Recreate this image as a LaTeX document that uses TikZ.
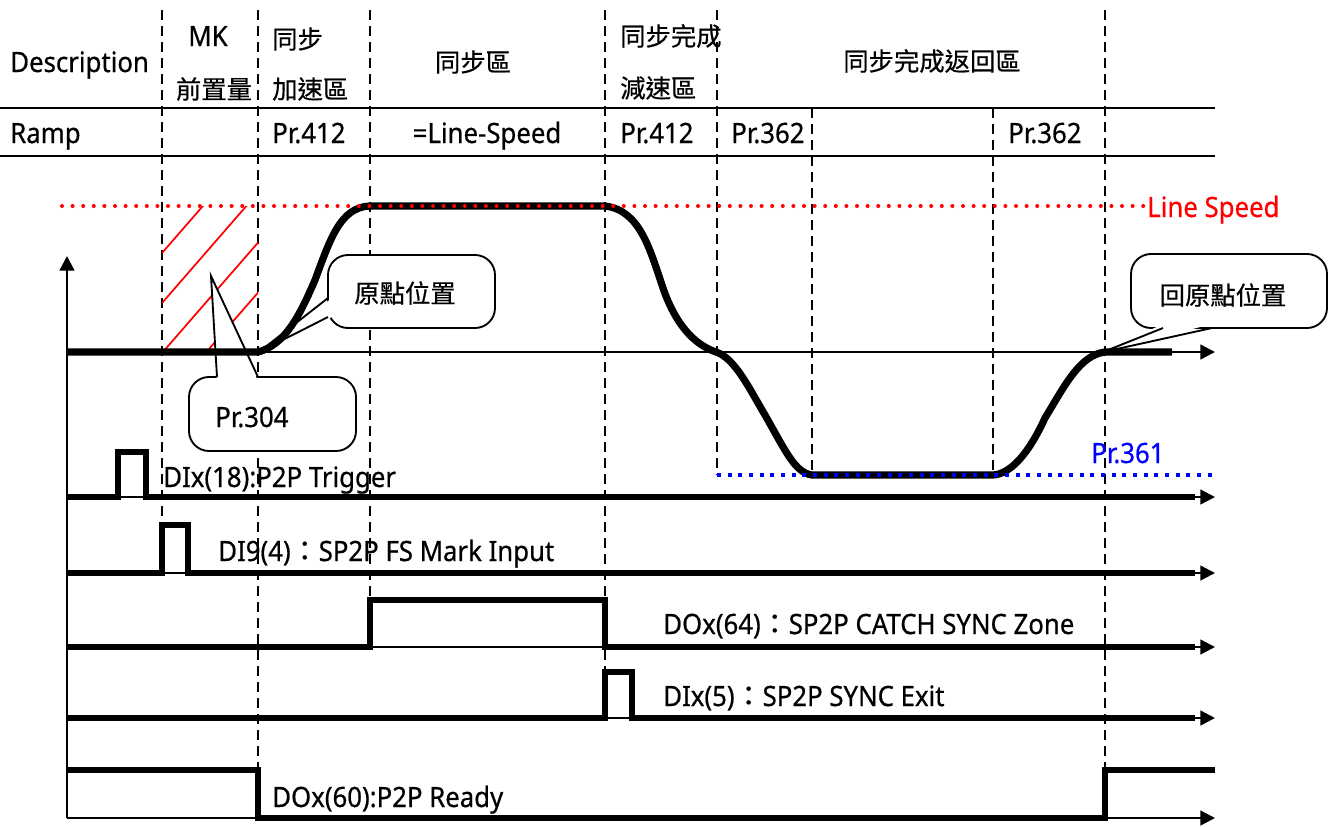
\documentclass[tikz,border=0pt]{standalone}
\usepackage{fontspec}
\setmainfont[FakeStretch=0.92,FakeBold=0.6]{Noto Sans}
\newfontfamily\cjk[FakeBold=0.5]{Noto Sans CJK TC}
\usetikzlibrary{arrows.meta}
\newcommand\latf{\fontsize{21}{25}\selectfont}
\newcommand\cjkf{\cjk\fontsize{19}{23}\selectfont}
\begin{document}
\begin{tikzpicture}[x=0.75pt,y=-0.75pt,
  hdr/.style={line width=1.9pt},
  vdash/.style={line width=2pt, dash pattern=on 7.5pt off 4.5pt},
  hatch/.style={red, line width=1.3pt},
  axis/.style={line width=1.8pt, -{Triangle[length=11pt,width=11pt]}},
  sig/.style={line width=4.3pt, line join=miter},
  speed/.style={line width=5.4pt, line join=round},
  reddots/.style={red, line width=3pt, line cap=round, dash pattern=on 0pt off 7.95pt},
  bluedots/.style={blue, line width=3pt, dash pattern=on 3pt off 5pt},
  callout/.style={draw, line width=1.4pt, fill=white, rounded corners=15pt},
  ptr/.style={line width=1.4pt, line join=miter},
  txt/.style={inner sep=0pt, font=\latf},
  ctxt/.style={inner sep=0pt, font=\cjkf}]
\useasboundingbox (0,0) rectangle (1331,826);

% header lines
\draw[hdr] (0,108) -- (1215,108);
\draw[hdr] (0,156) -- (1215,156);

% vertical dashed lines
\draw[vdash] (162,10) -- (162,525);
\draw[vdash] (258,10) -- (258,818);
\draw[vdash] (370,10) -- (370,600);
\draw[vdash] (605,10) -- (605,672);
\draw[vdash] (717,10) -- (717,475);
\draw[vdash] (812,108) -- (812,475);
\draw[vdash] (993,108) -- (993,475);
\draw[vdash] (1105,10) -- (1105,770);

% hatch
\begin{scope}
\clip (162,206) rectangle (258,352);
\foreach \b in {253,303,353,403}
  \draw[hatch] (162,\b) -- ++(120,-138);
\end{scope}

% axes and baselines
\draw[axis] (67,818) -- (67,256);
\draw[axis] (67,352) -- (1215,352);
\foreach \yy in {497,573,647,718,818}
  \draw[axis] (67,\yy) -- (1215,\yy);

% callouts
\coordinate (tipA) at (211,276);
\draw[callout] (189,377) rectangle (356,451);
\fill[white] (217,381) -- (tipA) -- (258,381) -- cycle;
\draw[ptr] (217,377) -- (tipA) -- (258,377);

\coordinate (tipB) at (259,352);
\draw[callout] (328,255) rectangle (495,328);
\fill[white] (332,298) -- (tipB) -- (332,317) -- cycle;
\draw[ptr] (328,298) -- (tipB) -- (328,317);

\coordinate (tipC) at (1103,352);
\draw[callout] (1131,254) rectangle (1327,328);
\fill[white] (1163,324) -- (tipC) -- (1212,324) -- cycle;
\draw[ptr] (1163,328) -- (tipC) -- (1212,328);

% speed curve
\draw[speed] (67,352) -- (258,352)
  .. controls (285,345) and (300,315) .. (315,280)
  .. controls (330,240) and (340,207) .. (370,206)
  -- (605,206)
  .. controls (640,210) and (650,250) .. (662,285)
  .. controls (675,325) and (695,345) .. (716,352)
  .. controls (735,358) and (750,390) .. (765,415)
  .. controls (785,450) and (795,473) .. (812,475)
  -- (993,475)
  .. controls (1010,474) and (1028,455) .. (1045,418)
  .. controls (1065,385) and (1080,355) .. (1105,352)
  -- (1172,352);

% signals
\draw[sig] (67,497) -- (118,497) -- (118,452) -- (146,452) -- (146,497) -- (1195,497);
\draw[sig] (67,573) -- (162,573) -- (162,525) -- (188,525) -- (188,573) -- (1195,573);
\draw[sig] (67,647) -- (370,647) -- (370,600) -- (605,600) -- (605,647) -- (1195,647);
\draw[sig] (67,718) -- (605,718) -- (605,672) -- (632,672) -- (632,718) -- (1195,718);
\draw[sig] (67,770) -- (258,770) -- (258,818) -- (1105,818) -- (1105,770) -- (1215,770);

% dotted reference levels
\draw[reddots] (62,206) -- (1145,206);
\draw[bluedots] (717,475) -- (1215,475);

% header texts
\node[txt, anchor=base west] (desc) at (10,72) {Description};
\node[txt, anchor=base] (mk) at (208,46) {MK};
\node[ctxt] (mkq) at (214,89) {前置量};
\node[ctxt, anchor=west] (acc1) at (272,39) {同步};
\node[ctxt, anchor=west] (acc2) at (272,89) {加速區};
\node[ctxt] (sync) at (473,62) {同步區};
\node[ctxt, anchor=west] (dec1) at (620,36) {同步完成};
\node[ctxt, anchor=west] (dec2) at (620,88) {減速區};
\node[ctxt] (ret) at (932,61) {同步完成返回區};

\node[txt, anchor=base west] (ramp) at (10,143) {Ramp};
\node[txt, anchor=base west] (r1) at (272,143) {Pr.412};
\node[txt, anchor=base] (r2) at (487,143) {=Line-Speed};
\node[txt, anchor=base west] (r3) at (620,143) {Pr.412};
\node[txt, anchor=base west] (r4) at (731,143) {Pr.362};
\node[txt, anchor=base west] (r5) at (1008,143) {Pr.362};

% other labels
\node[txt, anchor=base west, text=red] (ls) at (1147,217) {Line Speed};
\node[txt, anchor=base west, text=blue] (p361) at (1091,463) {Pr.361};
\node[txt, anchor=base west] (p304) at (215,427) {Pr.304};
\node[ctxt] (orig) at (405,293) {原點位置};
\node[ctxt] (rorig) at (1223,295) {回原點位置};

\node[txt, anchor=base west] (s1) at (163,487) {DIx(18):P2P Trigger};
\node[txt, anchor=base west] (s2) at (218,561) {DI9(4){\cjk ：}SP2P FS Mark Input};
\node[txt, anchor=base west] (s3) at (663,634) {DOx(64){\cjk ：}SP2P CATCH SYNC Zone};
\node[txt, anchor=base west] (s4) at (663,706) {DIx(5){\cjk ：}SP2P SYNC Exit};
\node[txt, anchor=base west] (s5) at (272,807) {DOx(60):P2P Ready};
\end{tikzpicture}
\end{document}
